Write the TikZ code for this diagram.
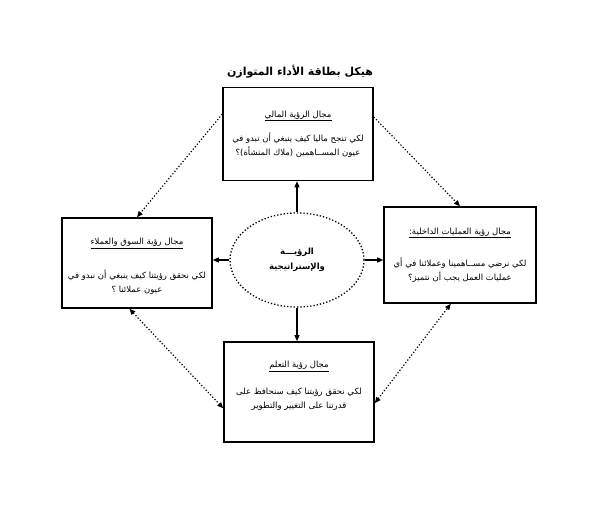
\documentclass[tikz,border=0pt]{standalone}
\usepackage{fontspec}
\newfontfamily\arabicfont[Script=Arabic]{DejaVu Sans}
\TeXXeTstate=1
\usetikzlibrary{arrows.meta,positioning,shapes.geometric,calc}
\newcommand{\artxt}[1]{\beginR #1\endR}

\begin{document}
\begin{tikzpicture}[
  x=1pt, y=-1pt,
  card/.style={draw, line width=1.6pt, minimum width=150pt, minimum height=93pt,
    align=center, font=\arabicfont\fontsize{8.5}{14}\selectfont},
  hub/.style={ellipse, draw, dotted, line width=1.3pt, minimum width=134pt,
    minimum height=94pt, align=center, font=\arabicfont\bfseries\fontsize{8.5}{15}\selectfont},
  link/.style={-{Triangle[length=6pt,width=5pt]}, line width=1.2pt},
  dlink/.style={dotted, line width=1.2pt, -{Triangle[length=6pt,width=5pt]}},
  dboth/.style={dotted, line width=1.2pt, {Triangle[length=6pt,width=5pt]}-{Triangle[length=6pt,width=5pt]}},
]
\useasboundingbox (0,0) rectangle (604,524);

\node[font=\arabicfont\bfseries\fontsize{11}{13}\selectfont] (title) at (300,72) {\artxt{هيكل بطاقة الأداء المتوازن}};

\node[hub] (vision) at (297,260) {\artxt{الرؤيـــة}\\\artxt{والإستراتيجية}};

\node[card] (fin) at (298,134)
  {\underline{\artxt{مجال الرؤية المالي}}\\[10pt]
   \artxt{لكي تنجح ماليا كيف ينبغي أن تبدو في}\\
   \artxt{عيون المســاهمين (ملاك المنشأة)؟}};
\node[card, minimum width=152pt, minimum height=96pt] (ops) at (460,255)
  {\underline{\artxt{مجال رؤية العمليات الداخلية:}}\\[18pt]
   \artxt{لكي نرضي مســاهمينا وعملائنا في أي}\\
   \artxt{عمليات العمل  يجب أن نتميز؟}};
\node[card, minimum height=90pt] (mkt) at (137,263)
  {\mbox{}\\
   \underline{\artxt{مجال رؤية السوق والعملاء}}\\[20pt]
   \artxt{لكي نحقق رؤيتنا كيف ينبغي أن نبدو في}\\
   \artxt{عيون عملائنا ؟}};
\node[card, minimum height=100pt] (learn) at (299,392)
  {\underline{\artxt{مجال رؤية التعلم}}\\[13pt]
   \artxt{لكي نحقق رؤيتنا كيف سنحافظ على}\\
   \artxt{قدرتنا على التغيير والتطوير}\\
   \mbox{}};

% solid links from the centre
\draw[link] (vision.north) -- (vision.north |- fin.south);
\draw[link] (vision.south) -- (vision.south |- learn.north);
\draw[link] (vision.east) -- (vision.east -| ops.west);
\draw[link] (vision.west) -- (vision.west -| mkt.east);

% dotted links between the cards
\draw[dlink] ($(fin.north west)!0.29!(fin.south west)$) -- (mkt.north);
\draw[dlink] ($(fin.north east)!0.32!(fin.south east)$) -- (ops.north);
\draw[dboth] ($(mkt.south west)!0.45!(mkt.south east)$) -- ($(learn.north west)!0.66!(learn.south west)$);
\draw[dboth] ($(learn.north east)!0.61!(learn.south east)$) -- ($(ops.south west)!0.44!(ops.south east)$);
\end{tikzpicture}
\end{document}
